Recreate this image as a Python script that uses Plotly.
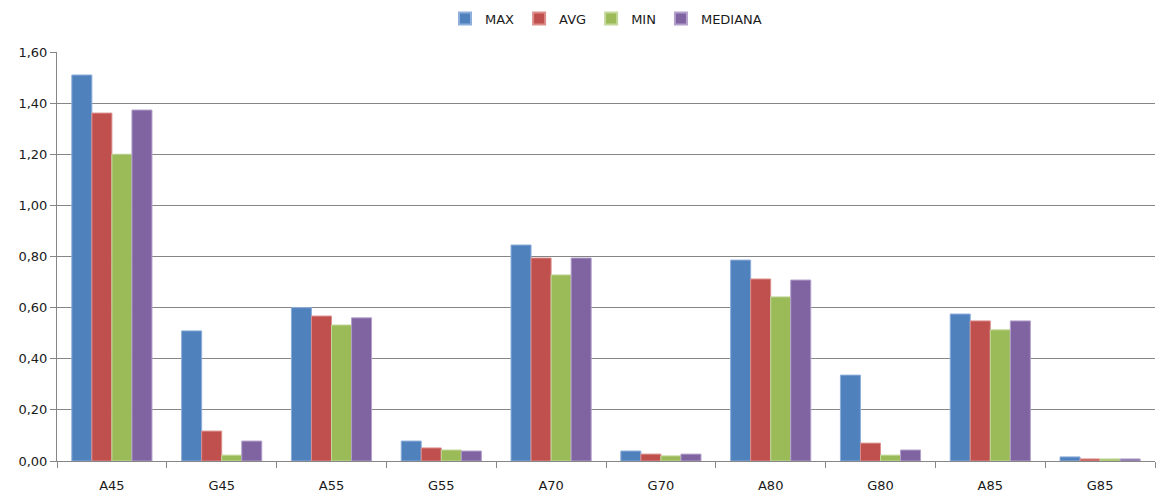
import plotly.graph_objects as go

categories = ["A45", "G45", "A55", "G55", "A70", "G70", "A80", "G80", "A85", "G85"]
max_vals = [1.51, 0.509, 0.60, 0.078, 0.845, 0.039, 0.786, 0.336, 0.575, 0.016]
avg_vals = [1.361, 0.117, 0.567, 0.051, 0.794, 0.027, 0.712, 0.070, 0.548, 0.008]
min_vals = [1.20, 0.023, 0.532, 0.043, 0.728, 0.020, 0.642, 0.023, 0.513, 0.008]
med_vals = [1.373, 0.078, 0.560, 0.039, 0.794, 0.027, 0.708, 0.043, 0.548, 0.008]

series = [
    ("MAX", max_vals, "#4F81BD", "#8EAEDB"),
    ("AVG", avg_vals, "#C0504D", "#DB8E8C"),
    ("MIN", min_vals, "#9BBB59", "#C3D89A"),
    ("MEDIANA", med_vals, "#8064A2", "#B3A0CB"),
]

fig = go.Figure()
for name, vals, col, edge in series:
    fig.add_trace(go.Bar(
        x=categories, y=vals, name=name,
        marker=dict(color=col, line=dict(color=edge, width=1)),
    ))

font = "DejaVu Sans, Verdana, sans-serif"
fig.update_layout(
    width=1161, height=502,
    margin=dict(l=57, r=6, t=52, b=41),
    paper_bgcolor="white", plot_bgcolor="white",
    barmode="group", bargap=0.27, bargroupgap=0,
    separators=",.",
    font=dict(family=font, size=13, color="#1a1a1a"),
    legend=dict(orientation="h", x=0.5, xanchor="center", y=0.993, yanchor="top",
                yref="container", font=dict(size=13),
                itemwidth=30, itemsizing="constant", tracegroupgap=0),
    showlegend=True,
)
fig.update_xaxes(
    showline=True, linecolor="#868686", linewidth=1,
    ticks="outside", tickson="boundaries", ticklen=6, tickcolor="#868686",
    showgrid=False, tickfont=dict(size=13, family=font), ticklabelstandoff=12,
)
fig.update_yaxes(
    range=[0, 1.6], dtick=0.2, tickformat=".2f",
    showline=True, linecolor="#868686", linewidth=1,
    ticks="outside", ticklen=6, tickcolor="#868686",
    showgrid=True, gridcolor="#868686", gridwidth=1,
    zeroline=False, tickfont=dict(size=13, family=font),
)

fig.write_html("out.html")
